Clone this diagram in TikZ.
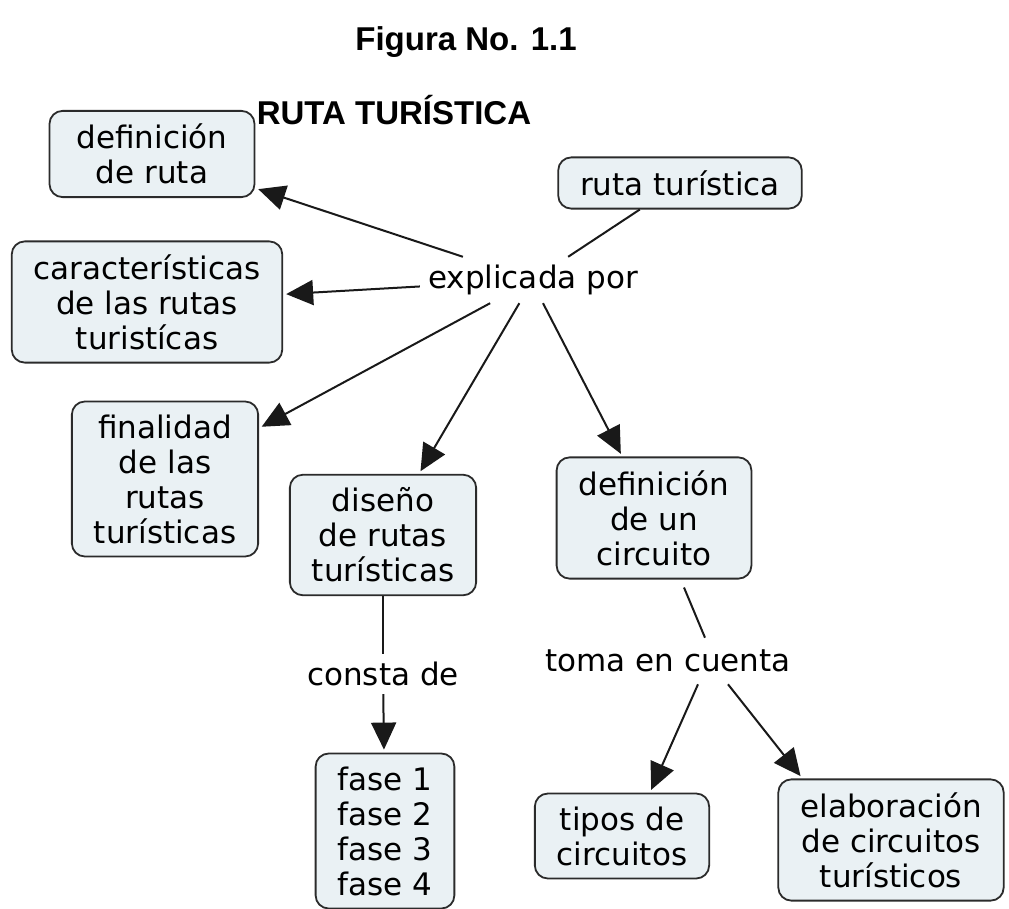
\documentclass[tikz,border=0pt]{standalone}
\usepackage{fontspec}
\setmainfont{DejaVu Sans}
\newfontfamily\titlefont{Liberation Sans}
\usetikzlibrary{arrows.meta, positioning}
\definecolor{boxfill}{HTML}{EAF1F4}
\definecolor{boxline}{HTML}{2B2B2B}
\tikzset{
  concept/.style={draw=boxline, line width=1.8pt, fill=boxfill, rounded corners=13pt,
    align=center, font=\fontsize{31}{35}\selectfont, inner xsep=22pt, inner ysep=13pt},
  linkword/.style={font=\fontsize{31}{35}\selectfont, inner sep=8pt},
  link/.style={line width=2pt, draw=black!90},
  linkarrow/.style={link, -{Triangle[length=27pt,width=25pt]}, shorten >=3pt},
  heading/.style={font=\titlefont\bfseries\fontsize{33}{36}\selectfont},
}

\begin{document}
\begin{tikzpicture}[x=1pt,y=-1pt]
      \useasboundingbox (0,0) rectangle (1009,909);

      % titles
      \node[heading] (fig)   at (466,42)  {Figura No. 1.1};
      \node[heading] (title) at (394,110) {RUTA TURÍSTICA};

      % concepts
      \node[concept] (ruta)   at (680,183) {ruta turística};
      \node[concept, minimum width=205pt] (defr) at (152,154) {definición\\de ruta};
      \node[concept] (carac)  at (147,302) {características\\de las rutas\\turistícas};
      \node[concept] (final)  at (165,479) {finalidad\\de las\\rutas\\turísticas};
      \node[concept] (dis)    at (383,535) {diseño\\de rutas\\turísticas};
      \node[concept] (defc)   at (654,518) {definición\\de un\\circuito};
      \node[concept] (fases)  at (385,831) {fase 1\\fase 2\\fase 3\\fase 4};
      \node[concept] (tipos)  at (622,836) {tipos de\\circuitos};
      \node[concept] (elab)   at (891,840) {elaboración\\de circuitos\\turísticos};

      % linking words
      \node[linkword] (expl)  at (533,280) {explicada por};
      \node[linkword] (consta) at (383,674) {consta de};
      \node[linkword] (toma)  at (668,661) {toma en cuenta};

      % connectors
      \draw[link] (ruta) -- (expl);
      \draw[linkarrow] (expl) -- (defr);
      \draw[linkarrow] (expl) -- (carac);
      \draw[linkarrow] (expl) -- (final);
      \draw[linkarrow] (expl) -- (dis);
      \draw[linkarrow] ([xshift=10pt]expl.south) -- (defc);
      \draw[link] (dis) -- (consta);
      \draw[linkarrow] (consta) -- (fases);
      \draw[link] ([xshift=30pt,yshift=-8pt]defc.south) -- ([xshift=37pt,yshift=4pt]toma.north);
      \draw[linkarrow] ([xshift=30pt,yshift=-4pt]toma.south) -- ([xshift=28pt]tipos.north);
      \draw[linkarrow] ([xshift=60pt,yshift=-4pt]toma.south) -- ([xshift=25pt]elab.north west);
    \end{tikzpicture}
\end{document}
